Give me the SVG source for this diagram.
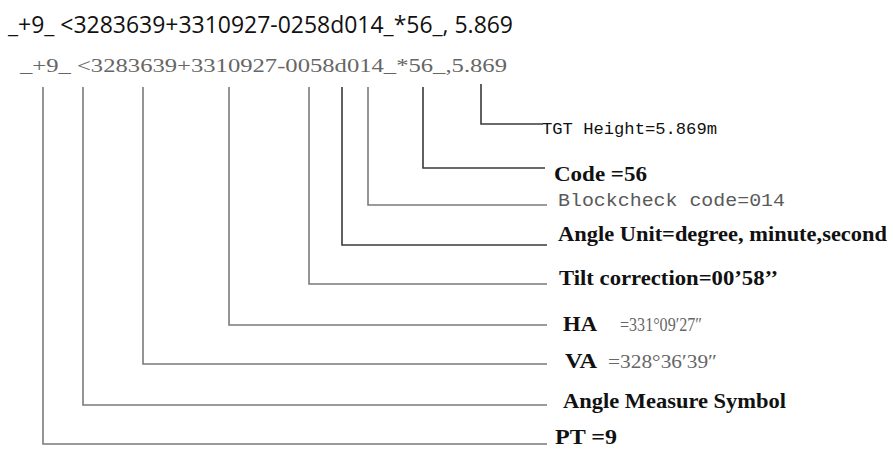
<svg xmlns="http://www.w3.org/2000/svg" width="893" height="450" viewBox="0 0 893 450">
<style>
.bg{fill:#ffffff}
.hdr{font-family:"Open Sans","Liberation Sans",sans-serif;font-size:24px;fill:#111}
.raw{font-family:"Liberation Serif",serif;font-size:18px;fill:#666}
.lbl{font-family:"Liberation Serif",serif;font-size:22px;font-weight:bold;fill:#111}
.val{font-family:"Liberation Serif",serif;font-size:18px;fill:#666}
.mono{font-family:"Liberation Mono",monospace;font-size:16px;fill:#111}
.mono2{font-family:"Liberation Mono",monospace;font-size:19px;fill:#5a5a5a}
.ln{fill:none;stroke:#7a7a7a;stroke-width:1.6}
.lnd{fill:none;stroke:#3a3a3a;stroke-width:1.6}
</style>
<rect class="bg" x="0" y="0" width="893" height="450"/>
<g id="header">
<text class="hdr" x="8" y="33" textLength="505" lengthAdjust="spacingAndGlyphs">_+9_ &lt;3283639+3310927-0258d014_*56_, 5.869</text>
</g>
<g id="raw-string">
<text class="raw" x="20" y="72" textLength="487" lengthAdjust="spacingAndGlyphs">_+9_ &lt;3283639+3310927-0058d014_*56_,5.869</text>
</g>
<g id="connectors">
<path class="lnd" d="M481,84 V124 H543"/>
<path class="lnd" d="M423,87 V168 H545"/>
<path class="ln" d="M368,87 V205 H547"/>
<path class="lnd" d="M342,87 V245 H547"/>
<path class="ln" d="M309,87 V284 H547"/>
<path class="ln" d="M229,87 V325 H547"/>
<path class="ln" d="M143,87 V364 H547"/>
<path class="ln" d="M83,87 V405 H547"/>
<path class="ln" d="M43,87 V444 H547"/>
</g>
<g id="tgt-height">
<text class="mono" x="542" y="134" textLength="175" lengthAdjust="spacingAndGlyphs">TGT Height=5.869m</text>
</g>
<g id="code">
<text class="lbl" x="554" y="181" textLength="93" lengthAdjust="spacingAndGlyphs">Code =56</text>
</g>
<g id="blockcheck">
<text class="mono2" x="558" y="206" textLength="227" lengthAdjust="spacingAndGlyphs">Blockcheck code=014</text>
</g>
<g id="angle-unit">
<text class="lbl" x="558" y="241" textLength="329" lengthAdjust="spacingAndGlyphs">Angle Unit=degree, minute,second</text>
</g>
<g id="tilt">
<text class="lbl" x="559" y="285" textLength="219" lengthAdjust="spacingAndGlyphs">Tilt correction=00’58’’</text>
</g>
<g id="ha">
<text class="lbl" x="563" y="331" textLength="34" lengthAdjust="spacingAndGlyphs">HA</text>
<text class="val" x="620" y="331" textLength="82" lengthAdjust="spacingAndGlyphs">=331°09′27″</text>
</g>
<g id="va">
<text class="lbl" x="565" y="368" textLength="32" lengthAdjust="spacingAndGlyphs">VA</text>
<text class="val" x="608" y="368" textLength="109" lengthAdjust="spacingAndGlyphs">=328°36′39″</text>
</g>
<g id="angle-measure">
<text class="lbl" x="563" y="408" textLength="223" lengthAdjust="spacingAndGlyphs">Angle Measure Symbol</text>
</g>
<g id="pt">
<text class="lbl" x="555" y="444" style="font-size:21px" textLength="62" lengthAdjust="spacingAndGlyphs">PT =9</text>
</g>
</svg>
